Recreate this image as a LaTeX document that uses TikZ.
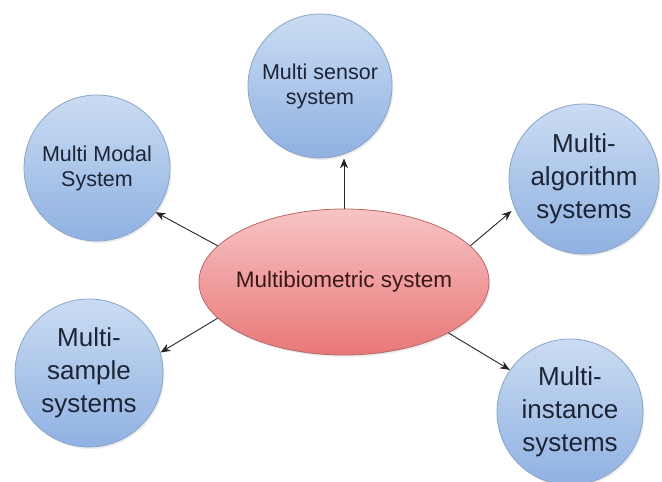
\documentclass[tikz,border=0pt]{standalone}
\usepackage{fontspec}
\setmainfont{Liberation Sans}
\usetikzlibrary{shapes.geometric,arrows.meta,shadows}
\definecolor{bluetop}{HTML}{CADCF2}
\definecolor{bluebot}{HTML}{8FB1E2}
\definecolor{blueedge}{HTML}{8AA4C8}
\definecolor{redtop}{HTML}{F7C4C4}
\definecolor{redbot}{HTML}{E97777}
\definecolor{rededge}{HTML}{B86868}
\definecolor{txtblue}{HTML}{1C2436}
\definecolor{txtred}{HTML}{3A1818}
\tikzset{
  bubble/.style={circle, draw=blueedge, line width=0.8pt, top color=bluetop, bottom color=bluebot,
    align=center, text=txtblue, inner sep=0pt,
    drop shadow={opacity=0.15, shadow xshift=1.5pt, shadow yshift=-2pt}},
  smalltxt/.style={font=\fontsize{21.5}{25}\selectfont},
  bigtxt/.style={font=\fontsize{26}{33}\selectfont},
  center/.style={ellipse, draw=rededge, line width=0.8pt, top color=redtop, bottom color=redbot,
    text=txtred, minimum width=290pt, minimum height=146pt, inner ysep=0pt, inner xsep=-8pt,
    font=\fontsize{22.5}{26}\selectfont,
    drop shadow={opacity=0.15, shadow xshift=1.5pt, shadow yshift=-2pt}},
  arr/.style={draw=black!85, line width=0.9pt, -{Stealth[length=10pt,width=8pt]}}
}
\begin{document}
\begin{tikzpicture}[x=1pt,y=-1pt]
\useasboundingbox (0,0) rectangle (662,482);
\node[center] (c) at (344,282) {Multibiometric system};
\node[bubble, smalltxt, minimum size=146pt] (mm) at (97,168) {Multi Modal\\System};
\node[bubble, smalltxt, minimum size=144pt] (sen) at (320,86) {Multi sensor\\system};
\node[bubble, bigtxt, minimum size=150pt] (ma) at (584,179) {Multi-\\algorithm\\systems};
\node[bubble, bigtxt, minimum size=148pt] (msam) at (89,373) {Multi-\\sample\\systems};
\node[bubble, bigtxt, minimum size=146pt] (mi) at (570,412) {Multi-\\instance\\systems};
\draw[arr] (c.north) -- (c.north |- sen.south);
\draw[arr] (c.164) -- (mm.-37);
\draw[arr] (c.196) -- (msam.16);
\draw[arr, shorten >=4pt] (c.16.4) -- (ma.203);
\draw[arr] (c.-26.8) -- (mi.145);
\end{tikzpicture}
\end{document}
